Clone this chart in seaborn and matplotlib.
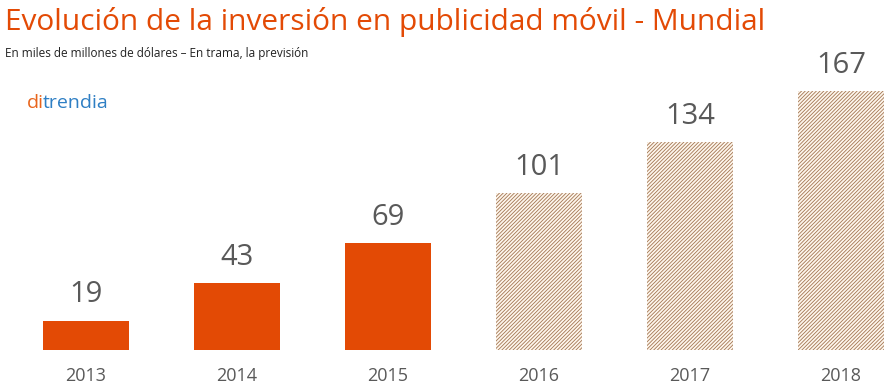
import numpy as np
import pandas as pd
import seaborn as sns
import matplotlib.pyplot as plt
from matplotlib.transforms import ScaledTranslation

years = ['2013', '2014', '2015', '2016', '2017', '2018']
values = [19, 43, 69, 101, 134, 167]
forecast = [False, False, False, True, True, True]

orange = '#E34A05'
grey = '#595959'

sns.set_style('white')
plt.rcParams['font.family'] = ['Open Sans', 'DejaVu Sans']
plt.rcParams['hatch.linewidth'] = 0.6

df = pd.DataFrame({'year': years, 'value': values})

fig = plt.figure(figsize=(8.96, 3.89), dpi=100)
ax = fig.add_axes([10.5 / 896, 39 / 389, 885.5 / 896, 300 / 389])

sns.barplot(data=df, x='year', y='value', color=orange, width=0.57,
            saturation=1, ax=ax)

for bar, f in zip(ax.patches, forecast):
    bar.set_linewidth(0)
    if f:
        bar.set_facecolor('#FEF6EC')
        bar.set_edgecolor('#A27552')
        bar.set_hatch('/////////')

ax.bar_label(ax.containers[0], labels=[str(v) for v in values], padding=8,
             fontsize=21, color=grey)

ax.set_xlim(-0.5, (896 - 86) / 151)
ax.set_ylim(0, 300 / 1.55)
ax.set_xlabel('')
ax.set_ylabel('')
ax.set_yticks([])
ax.tick_params(axis='x', length=0, labelsize=13, labelcolor=grey, pad=12)
sns.despine(ax=ax, left=True, bottom=True)

fig.text(5 / 896, 1 - 22 / 389, 'Evolución de la inversión en publicidad móvil - Mundial',
         fontsize=21.5, color=orange, va='center', ha='left')
fig.text(5 / 896, 1 - 54 / 389, 'En miles de millones de dólares – En trama, la previsión',
         fontsize=8.5, color='#222222', va='center', ha='left')

# logo: "di" + "trendia" right after it
logo_pos = (27 / 896, 1 - 108 / 389)
fig.text(*logo_pos, 'di', fontsize=14, color='#E8641B', va='baseline', ha='left')
fig.text(*logo_pos, 'trendia', fontsize=14, color='#2E7FC4', va='baseline', ha='left',
         transform=fig.transFigure + ScaledTranslation(0.155, 0, fig.dpi_scale_trans))

fig.savefig('out.png', dpi=100)
